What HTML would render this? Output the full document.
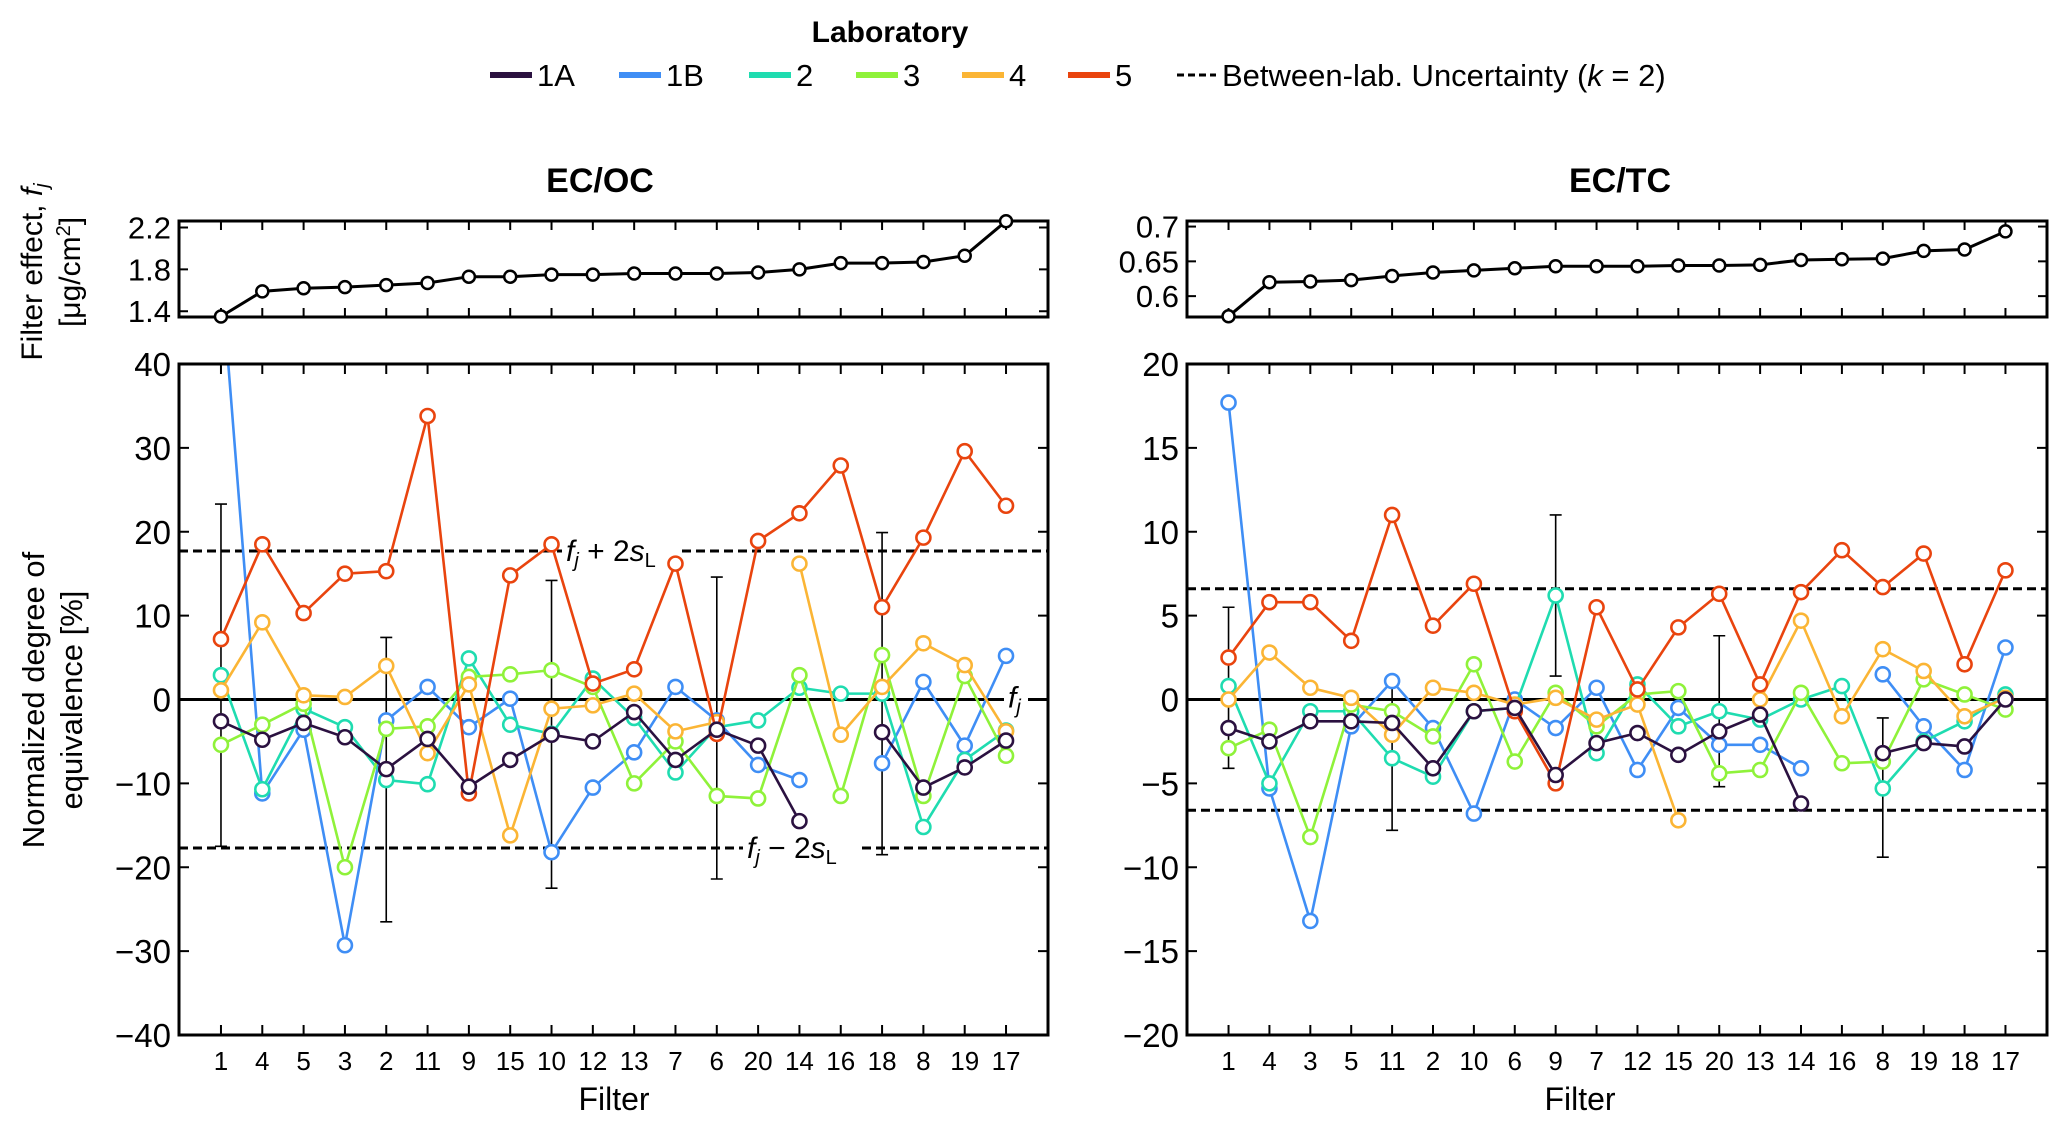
<!DOCTYPE html>
<html><head><meta charset="utf-8"><style>
body{margin:0;background:#fff;}
svg{display:block;font-family:"Liberation Sans",sans-serif;}
</style></head><body>
<svg id="chart" width="2067" height="1128" viewBox="0 0 2067 1128">
<g>
<text x="890" y="42" font-size="30" font-weight="bold" text-anchor="middle">Laboratory</text>
<g id="legend-items"></g>
</g>
<text x="600" y="192" font-size="34" font-weight="bold" text-anchor="middle">EC/OC</text>
<text x="1620" y="192" font-size="34" font-weight="bold" text-anchor="middle">EC/TC</text>
<text transform="translate(42,272) rotate(-90)" font-size="30" text-anchor="middle">Filter effect, <tspan font-style="italic">f</tspan><tspan font-style="italic" font-size="20" dy="6">j</tspan></text>
<text transform="translate(80,272) rotate(-90)" font-size="30" text-anchor="middle">[μg/cm<tspan font-size="20" dy="-10">2</tspan><tspan dy="10">]</tspan></text>
<text transform="translate(44,700) rotate(-90)" font-size="31" text-anchor="middle">Normalized degree of</text>
<text transform="translate(82,700) rotate(-90)" font-size="31" text-anchor="middle">equivalence [%]</text>
<text x="614" y="1110" font-size="32" text-anchor="middle">Filter</text>
<text x="1580" y="1110" font-size="32" text-anchor="middle">Filter</text>
<g id="plots"></g>
</svg>
<script>
const labs = ["1A","1B","2","3","4","5"];
const labColors = ["#2b1140","#3f8ef5","#1fdcb0","#8ff23a","#fbb535","#e9440e"];

const filtersOC = ["1","4","5","3","2","11","9","15","10","12","13","7","6","20","14","16","18","8","19","17"];
const effectOC = [1.35,1.59,1.62,1.63,1.65,1.67,1.73,1.73,1.75,1.75,1.76,1.76,1.76,1.77,1.80,1.86,1.86,1.87,1.93,2.26];
const oc1A = [-2.6,-4.8,-2.8,-4.5,-8.3,-4.7,-10.4,-7.2,-4.2,-5.0,-1.5,-7.2,-3.6,-5.5,-14.5,null,-3.9,-10.5,-8.1,-4.9];
const oc1B = [51,-11.2,-3.6,-29.3,-2.5,1.5,-3.3,0.1,-18.2,-10.5,-6.3,1.5,-2.5,-7.8,-9.6,null,-7.6,2.1,-5.5,5.2];
const oc2 = [2.9,-10.7,-1.1,-3.3,-9.6,-10.1,4.9,-3.0,-4.1,2.5,-2.2,-8.7,-3.3,-2.5,1.4,0.7,0.7,-15.2,-7.2,-3.7];
const oc3 = [-5.4,-3.0,-0.5,-20.0,-3.5,-3.2,2.7,3.0,3.5,1.5,-10.0,-5.0,-11.5,-11.8,2.9,-11.5,5.3,-11.5,2.8,-6.7];
const oc4 = [1.1,9.2,0.5,0.3,4.0,-6.4,1.8,-16.2,-1.1,-0.7,0.7,-3.8,-2.7,null,16.2,-4.2,1.5,6.7,4.1,-3.8];
const oc5 = [7.2,18.5,10.3,15.0,15.3,33.8,-11.2,14.8,18.5,1.9,3.6,16.2,-4.1,18.9,22.2,27.9,11.0,19.3,29.6,23.1];
const ocErrIdx = [0,4,8,12,16];
const ocErrHi = [23.3,7.4,14.2,14.6,19.9];
const ocErrLo = [-17.5,-26.5,-22.5,-21.4,-18.5];
const ocUnc = 17.7;
const ocTicks = [-40,-30,-20,-10,0,10,20,30,40];
const ocTopTicks = [1.4,1.8,2.2];

const filtersTC = ["1","4","3","5","11","2","10","6","9","7","12","15","20","13","14","16","8","19","18","17"];
const effectTC = [0.571,0.620,0.621,0.623,0.629,0.634,0.637,0.640,0.643,0.643,0.643,0.644,0.644,0.645,0.652,0.653,0.654,0.665,0.667,0.693];
const tc1A = [-1.7,-2.5,-1.3,-1.3,-1.4,-4.1,-0.7,-0.5,-4.5,-2.6,-2.0,-3.3,-1.9,-0.9,-6.2,null,-3.2,-2.6,-2.8,0];
const tc1B = [17.7,-5.3,-13.2,-1.6,1.1,-1.7,-6.8,0,-1.7,0.7,-4.2,-0.5,-2.7,-2.7,-4.1,null,1.5,-1.6,-4.2,3.1];
const tc2 = [0.8,-5.0,-0.7,-0.7,-3.5,-4.6,-0.7,-0.5,6.2,-3.2,0.9,-1.6,-0.7,-1.2,0,0.8,-5.3,-2.5,-1.3,0.3];
const tc3 = [-2.9,-1.8,-8.2,-0.3,-0.7,-2.2,2.1,-3.7,0.4,-1.6,0.3,0.5,-4.4,-4.2,0.4,-3.8,-3.7,1.2,0.3,-0.6];
const tc4 = [0,2.8,0.7,0.1,-2.1,0.7,0.4,-0.3,0.1,-1.2,-0.3,-7.2,null,0,4.7,-1.0,3.0,1.7,-1.0,0.1];
const tc5 = [2.5,5.8,5.8,3.5,11.0,4.4,6.9,-0.7,-5.0,5.5,0.6,4.3,6.3,0.9,6.4,8.9,6.7,8.7,2.1,7.7];
const tcErrIdx = [0,4,8,12,16];
const tcErrHi = [5.5,0.8,11.0,3.8,-1.1];
const tcErrLo = [-4.1,-7.8,1.4,-5.2,-9.4];
const tcUnc = 6.6;
const tcTicks = [-20,-15,-10,-5,0,5,10,15,20];
const tcTopTicks = [0.6,0.65,0.7];

const NS = "http://www.w3.org/2000/svg";
function mk(tag, attrs, parent){const e=document.createElementNS(NS,tag);for(const k in attrs)e.setAttribute(k,attrs[k]);parent.appendChild(e);return e;}

const leg = document.getElementById("legend-items");
const legX = [490,619,749,856,962,1068];
labs.forEach((l,i)=>{
  const ln = mk("line",{x1:legX[i],x2:legX[i]+42,y1:75,y2:75,stroke:labColors[i],"stroke-width":6},leg);
  
  
  const t = mk("text",{x:legX[i]+47,y:86,"font-size":31},leg);
  t.textContent=l;
  
  
});
const dl = mk("line",{x1:1177,x2:1216,y1:75,y2:75,stroke:"#000","stroke-width":3,"stroke-dasharray":"7,4"},leg);


const dt = mk("text",{x:1222,y:86,"font-size":31},leg);
dt.innerHTML='Between-lab. Uncertainty (<tspan font-style="italic">k</tspan> = 2)';



function hline(g,L,R,y,gap,attrs){
  if(!gap){return [mk("line",Object.assign({x1:L,x2:R,y1:y,y2:y},attrs),g)];}
  return [mk("line",Object.assign({x1:L,x2:gap[0],y1:y,y2:y},attrs),g), mk("line",Object.assign({x1:gap[1],x2:R,y1:y,y2:y},attrs),g)];
}

function panel(p){
  const root = document.getElementById("plots");
  const g = mk("g",{},root);
  
  
  const n = p.cats.length;
  const x0 = p.L + (p.R-p.L)*0.0483, x1 = p.R - (p.R-p.L)*0.0483;
  const xs = i => x0 + (x1-x0)*i/(n-1);
  const tT=221, tB=317;
  const yt = v => tB - (v-p.tmin)/(p.tmax-p.tmin)*(tB-tT);
  const tf = mk("rect",{x:p.L,y:tT,width:p.R-p.L,height:tB-tT,fill:"none",stroke:"#000","stroke-width":3},g);
  
  
  for(let i=0;i<n;i++){mk("line",{x1:xs(i),x2:xs(i),y1:tT,y2:tT+9,stroke:"#000","stroke-width":2},g);mk("line",{x1:xs(i),x2:xs(i),y1:tB,y2:tB-9,stroke:"#000","stroke-width":2},g);}
  p.topTicks.forEach(v=>{
    mk("line",{x1:p.L,x2:p.L+9,y1:yt(v),y2:yt(v),stroke:"#000","stroke-width":2},g);
    mk("line",{x1:p.R,x2:p.R-9,y1:yt(v),y2:yt(v),stroke:"#000","stroke-width":2},g);
    const t=mk("text",{x:p.L-8,y:yt(v)+11,"font-size":31,"text-anchor":"end"},g);
    t.textContent=String(v);
    
    
  });
  const ep = mk("polyline",{points:p.effect.map((v,i)=>xs(i)+","+yt(v)).join(" "),fill:"none",stroke:"#000","stroke-width":3},g);
  
  
  p.effect.forEach((v,i)=>{
    const c=mk("circle",{cx:xs(i),cy:yt(v),r:6,fill:"#fff",stroke:"#000","stroke-width":2.5},g);
    
    
  });
  const T=364,B=1035;
  const ys = v => B - (v-p.ymin)/(p.ymax-p.ymin)*(B-T);
  const cp = "clip-"+p.name;
  const cpe = mk("clipPath",{id:cp},g); mk("rect",{x:p.L,y:T,width:p.R-p.L,height:B-T},cpe);
  for(let i=0;i<n;i++){
    mk("line",{x1:xs(i),x2:xs(i),y1:T,y2:T+10,stroke:"#000","stroke-width":2},g);
    mk("line",{x1:xs(i),x2:xs(i),y1:B,y2:B-10,stroke:"#000","stroke-width":2},g);
    const t=mk("text",{x:xs(i),y:B+35,"font-size":26,"text-anchor":"middle"},g);
    t.textContent=p.cats[i];
    
    
  }
  p.ticks.forEach(v=>{
    mk("line",{x1:p.L,x2:p.L+10,y1:ys(v),y2:ys(v),stroke:"#000","stroke-width":2},g);
    mk("line",{x1:p.R,x2:p.R-10,y1:ys(v),y2:ys(v),stroke:"#000","stroke-width":2},g);
    const t=mk("text",{x:p.L-8,y:ys(v)+12,"font-size":33,"text-anchor":"end"},g);
    t.textContent=(v<0?"−"+(-v):String(v));
    
    
  });
  hline(g,p.L,p.R,ys(0),p.gapZero,{stroke:"#000","stroke-width":3}).forEach(e=>{
    
    
  });
  hline(g,p.L,p.R,ys(p.unc),p.gapHi,{stroke:"#000","stroke-width":3,"stroke-dasharray":"9,5"}).forEach(e=>{
    
    
  });
  hline(g,p.L,p.R,ys(-p.unc),p.gapLo,{stroke:"#000","stroke-width":3,"stroke-dasharray":"9,5"}).forEach(e=>{
    
    
  });
  p.errIdx.forEach((k,j)=>{
    const x=xs(k);
    const e=mk("path",{d:`M${x},${ys(p.errHi[j])}V${ys(p.errLo[j])}M${x-6},${ys(p.errHi[j])}H${x+6}M${x-6},${ys(p.errLo[j])}H${x+6}`,stroke:"#000","stroke-width":1.6,fill:"none"},g);
    
    
  });
  const order=[1,2,3,4,5,0];
  order.forEach(si=>{
    const vals=p.series[si];
    const sg=mk("g",{"clip-path":`url(#${cp})`},g);
    
    
    let seg=[];
    const flush=()=>{if(seg.length>1){mk("polyline",{points:seg.join(" "),fill:"none",stroke:labColors[si],"stroke-width":2.6},sg);}seg=[];};
    vals.forEach((v,i)=>{if(v===null){flush();}else seg.push(xs(i)+","+ys(v));});
    flush();
    vals.forEach((v,i)=>{if(v===null)return;
      const c=mk("circle",{cx:xs(i),cy:ys(v),r:7,fill:"#fff",stroke:labColors[si],"stroke-width":2.6},sg);
      
      
    });
  });
  const mf = mk("rect",{x:p.L,y:T,width:p.R-p.L,height:B-T,fill:"none",stroke:"#000","stroke-width":3},g);
  
  
  return {xs,ys};
}

const a = panel({name:"ecoc",L:179,R:1048,cats:filtersOC,effect:effectOC,tmin:1.345,tmax:2.262,topTicks:ocTopTicks,
  ymin:-40,ymax:40,ticks:ocTicks,unc:ocUnc,errIdx:ocErrIdx,errHi:ocErrHi,errLo:ocErrLo,series:[oc1A,oc1B,oc2,oc3,oc4,oc5],
  gapHi:[562,682],gapLo:[743,862],gapZero:[1004,1028]});
const b = panel({name:"ectc",L:1187,R:2047,cats:filtersTC,effect:effectTC,tmin:0.570,tmax:0.708,topTicks:tcTopTicks,
  ymin:-20,ymax:20,ticks:tcTicks,unc:tcUnc,errIdx:tcErrIdx,errHi:tcErrHi,errLo:tcErrLo,series:[tc1A,tc1B,tc2,tc3,tc4,tc5]});

const plots=document.getElementById("plots");
function ann(x,y,html,name){const t=mk("text",{x:x,y:y,"font-size":30},plots);t.innerHTML=html;
  
  
  return t;}
ann(566,a.ys(ocUnc)+10,'<tspan font-style="italic">f</tspan><tspan font-style="italic" font-size="20" dy="6">j</tspan><tspan dy="-6"> + 2</tspan><tspan font-style="italic">s</tspan><tspan font-size="20" dy="6">L</tspan>','upper-limit-label');
ann(747,a.ys(-ocUnc)+10,'<tspan font-style="italic">f</tspan><tspan font-style="italic" font-size="20" dy="6">j</tspan><tspan dy="-6"> − 2</tspan><tspan font-style="italic">s</tspan><tspan font-size="20" dy="6">L</tspan>','lower-limit-label');
ann(1008,a.ys(0)+8,'<tspan font-style="italic">f</tspan><tspan font-style="italic" font-size="20" dy="6">j</tspan>','reference-label');
</script>
</body></html>
